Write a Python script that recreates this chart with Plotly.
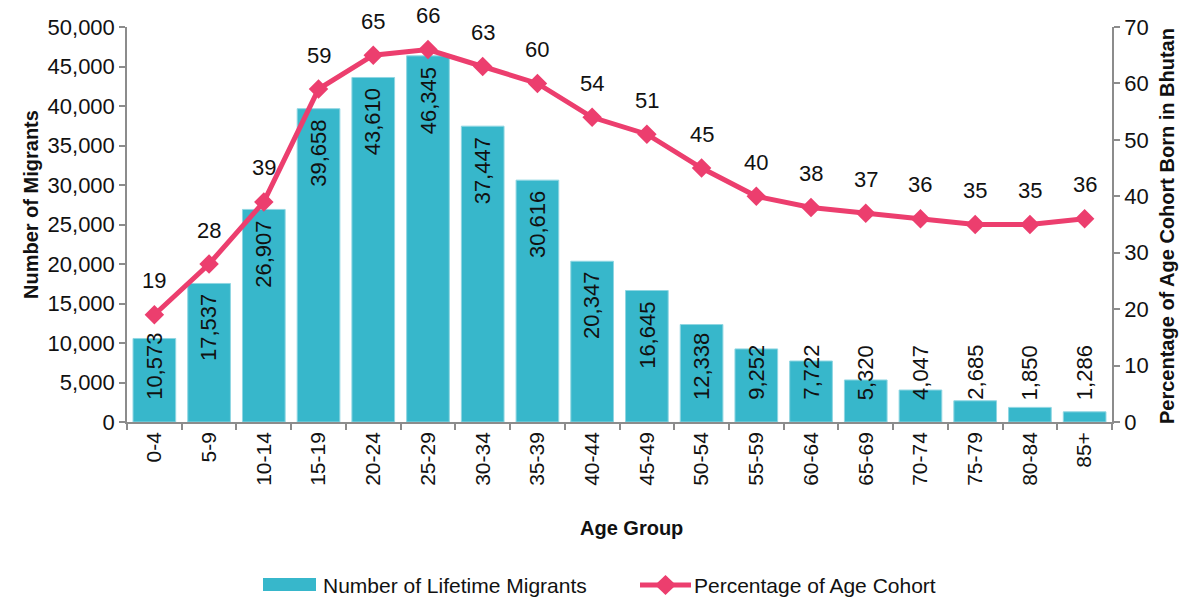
import plotly.graph_objects as go

# Lifetime migrants by age group, with the share of each cohort born in Bhutan
age_groups = ["0-4", "5-9", "10-14", "15-19", "20-24", "25-29", "30-34", "35-39",
              "40-44", "45-49", "50-54", "55-59", "60-64", "65-69", "70-74",
              "75-79", "80-84", "85+"]
migrants = [10573, 17537, 26907, 39658, 43610, 46345, 37447, 30616, 20347,
            16645, 12338, 9252, 7722, 5320, 4047, 2685, 1850, 1286]
cohort_pct = [19, 28, 39, 59, 65, 66, 63, 60, 54, 51, 45, 40, 38, 37, 36, 35, 35, 36]

left_ticks = list(range(0, 50001, 5000))
right_ticks = list(range(0, 71, 10))

W, H = 1191, 597
M_L, M_R, M_T, M_B = 127, 79, 27, 175
PLOT_W = W - M_L - M_R
PLOT_H = H - M_T - M_B

BAR_COLOR = "#37B7CB"
LINE_COLOR = "#EC3E6E"
AXIS_COLOR = "#8C8C8C"
TEXT_COLOR = "#111111"
TICK_FONT = "Liberation Sans, Arial, sans-serif"
TITLE_FONT = "Liberation Sans Narrow, Liberation Sans, Arial, sans-serif"
FS = 22
FS_X = 21

fig = go.Figure()

fig.add_trace(go.Bar(
    x=age_groups, y=migrants, name="Number of Lifetime Migrants",
    marker=dict(color=BAR_COLOR, line=dict(color="#8FD6E2", width=1)),
    yaxis="y", showlegend=False, hoverinfo="x+y",
))

fig.add_trace(go.Scatter(
    x=age_groups, y=cohort_pct, name="Percentage of Age Cohort",
    mode="lines+markers", yaxis="y2",
    line=dict(color=LINE_COLOR, width=5),
    marker=dict(symbol="diamond", size=15, color=LINE_COLOR),
    showlegend=False,
))

annotations = []

# Value labels inside the bars (rotated); short bars keep the label above the axis
y_max = left_ticks[-1]
px_per_unit = PLOT_H / y_max
for cat, v in zip(age_groups, migrants):
    txt = f"{v:,}"
    label_len = len(txt) * 11.5
    bar_px = v * px_per_unit
    if bar_px - 10 - label_len < 22:
        annotations.append(dict(x=cat, y=0, xref="x", yref="y", text=txt,
                                textangle=-90, showarrow=False, yanchor="bottom",
                                yshift=20, font=dict(size=FS, color=TEXT_COLOR, family=TICK_FONT)))
    else:
        annotations.append(dict(x=cat, y=v, xref="x", yref="y", text=txt,
                                textangle=-90, showarrow=False, yanchor="top",
                                yshift=-9, font=dict(size=FS, color=TEXT_COLOR, family=TICK_FONT)))

# Percentage labels above the line markers
for cat, p in zip(age_groups, cohort_pct):
    annotations.append(dict(x=cat, y=p, xref="x", yref="y2", text=str(p),
                            showarrow=False, yanchor="middle", yshift=34,
                            font=dict(size=FS, color=TEXT_COLOR, family=TICK_FONT)))


def px_x(px):
    return (px - M_L) / PLOT_W


def px_y(py):
    return (M_T + PLOT_H - py) / PLOT_H


# Axis titles
annotations.append(dict(x=px_x(631), y=px_y(541), xref="paper", yref="paper",
                        text="<b>Age Group</b>", showarrow=False,
                        font=dict(size=20, color=TEXT_COLOR, family=TITLE_FONT)))
annotations.append(dict(x=px_x(18), y=px_y(205), xref="paper", yref="paper",
                        text="<b>Number of Migrants</b>", textangle=-90, showarrow=False,
                        font=dict(size=20, color=TEXT_COLOR, family=TITLE_FONT)))
annotations.append(dict(x=px_x(1180), y=px_y(226), xref="paper", yref="paper",
                        text="<b>Percentage of Age Cohort Born in Bhutan</b>", textangle=-90,
                        showarrow=False,
                        font=dict(size=20, color=TEXT_COLOR, family=TITLE_FONT)))

# Legend drawn below the axis title
legend_y = 585
annotations.append(dict(x=px_x(321), y=px_y(legend_y), xref="paper", yref="paper",
                        text="Number of Lifetime Migrants", showarrow=False,
                        xanchor="left", yanchor="middle",
                        font=dict(size=21, color=TEXT_COLOR, family=TITLE_FONT)))
annotations.append(dict(x=px_x(692), y=px_y(legend_y), xref="paper", yref="paper",
                        text="Percentage of Age Cohort", showarrow=False,
                        xanchor="left", yanchor="middle",
                        font=dict(size=21, color=TEXT_COLOR, family=TITLE_FONT)))

shapes = [
    dict(type="rect", xref="paper", yref="paper",
         x0=px_x(263), x1=px_x(316), y0=px_y(591), y1=px_y(578),
         fillcolor=BAR_COLOR, line=dict(width=0)),
    dict(type="line", xref="paper", yref="paper",
         x0=px_x(640), x1=px_x(691), y0=px_y(legend_y), y1=px_y(legend_y),
         line=dict(color=LINE_COLOR, width=5)),
    dict(type="path", xref="paper", yref="paper",
         path=(f"M {px_x(655)},{px_y(legend_y)} L {px_x(665.5)},{px_y(legend_y - 10)} "
               f"L {px_x(676)},{px_y(legend_y)} L {px_x(665.5)},{px_y(legend_y + 10)} Z"),
         fillcolor=LINE_COLOR, line=dict(width=0)),
]

axis_common = dict(
    showline=True, linecolor=AXIS_COLOR, linewidth=1.5,
    ticks="outside", ticklen=6, tickcolor=AXIS_COLOR, tickwidth=1.5,
    showgrid=False, zeroline=False,
)

fig.update_layout(
    width=W, height=H,
    margin=dict(l=M_L, r=M_R, t=M_T, b=M_B),
    paper_bgcolor="white", plot_bgcolor="white",
    bargap=0.22,
    xaxis=dict(type="category", tickangle=-90, tickson="boundaries",
               range=[-0.5, len(age_groups) - 0.5],
               tickfont=dict(size=FS_X, color=TEXT_COLOR, family=TICK_FONT), **axis_common),
    yaxis=dict(range=[0, y_max], tickvals=left_ticks, tickformat=",",
               tickfont=dict(size=FS, color=TEXT_COLOR, family=TICK_FONT), **axis_common),
    yaxis2=dict(range=[0, right_ticks[-1]], tickvals=right_ticks, overlaying="y",
                side="right",
                tickfont=dict(size=FS, color=TEXT_COLOR, family=TICK_FONT), **axis_common),
    annotations=annotations,
    shapes=shapes,
)

fig.write_html("out.html")
